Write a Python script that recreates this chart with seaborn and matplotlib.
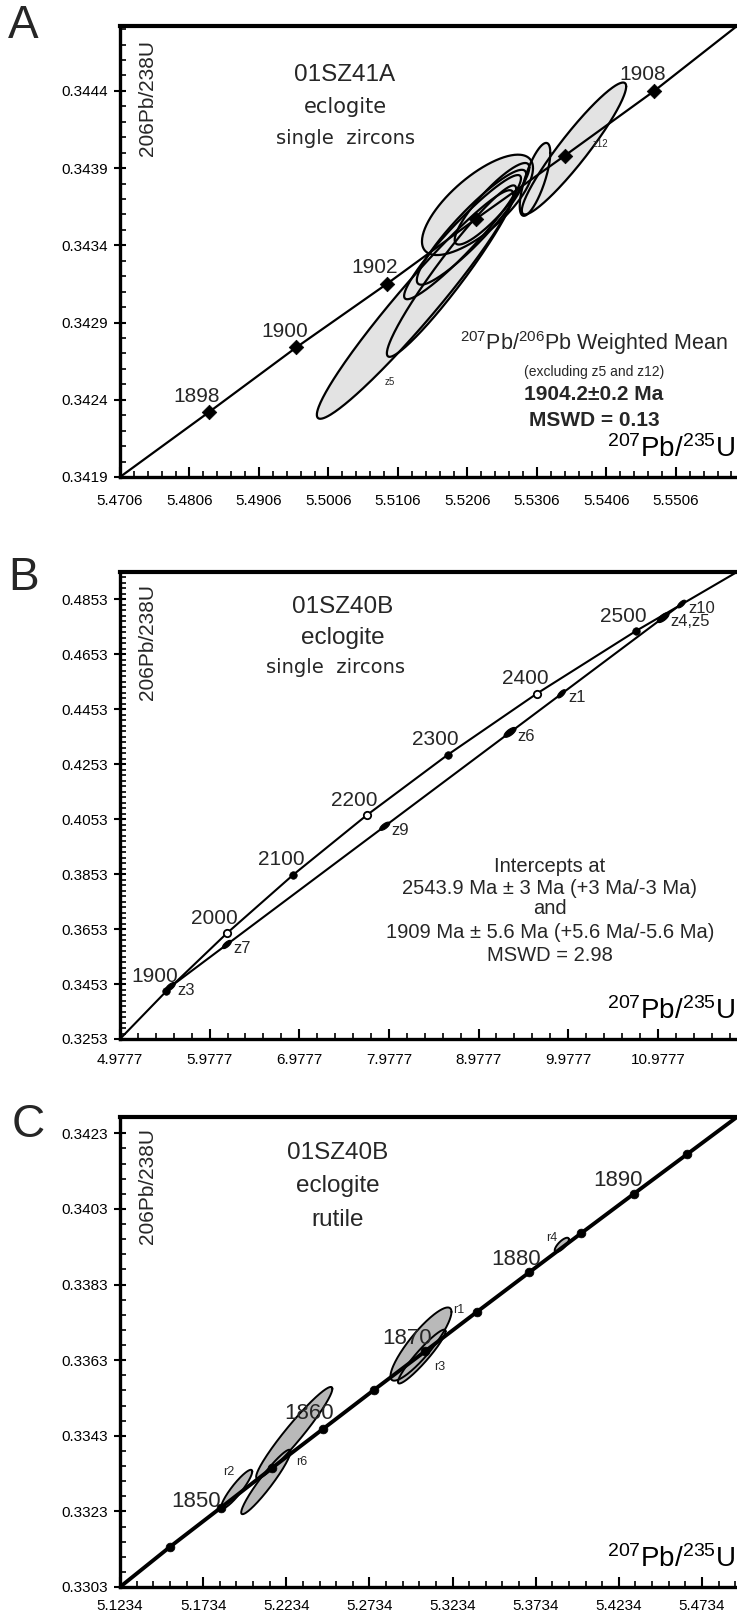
import numpy as np
import pandas as pd
import matplotlib
matplotlib.use("Agg")
import matplotlib.pyplot as plt
import seaborn as sns
from matplotlib.ticker import FixedLocator, FixedFormatter

# ---------------- data: panel A (01SZ41A zircons) ----------------
a_xticks = [5.4706, 5.4806, 5.4906, 5.5006, 5.5106, 5.5206, 5.5306, 5.5406, 5.5506]
a_yticks = [0.3419, 0.3424, 0.3429, 0.3434, 0.3439, 0.3444]
a_xlim = [5.4706, 5.5594]
a_ylim = [0.3419, 0.34482]
a_age = [1898, 1900, 1902, 1904, 1906, 1908]
a_age_x = [5.4834, 5.4960, 5.5090, 5.5218, 5.5346, 5.5475]
a_age_y = [0.34232, 0.34274, 0.34315, 0.34357, 0.34398, 0.34440]
a_age_labeled = [1898, 1900, 1902, 1908]
a_ell_name = ["z5", "", "", "", "", "", "", "z12"]
a_ell_x = [5.51306, 5.51831, 5.51990, 5.52119, 5.52205, 5.52414, 5.53033, 5.53594]
a_ell_y = [0.343017, 0.343233, 0.343453, 0.343517, 0.343662, 0.343669, 0.343827, 0.344027]
a_ell_ex = [0.01413, 0.00930, 0.00841, 0.00787, 0.00799, 0.00537, 0.00220, 0.00751]
a_ell_ey = [0.000740, 0.000555, 0.000402, 0.000372, 0.000325, 0.000264, 0.000236, 0.000427]
a_ell_rho = [0.965, 0.958, 0.946, 0.919, 0.729, 0.887, 0.729, 0.940]

# ---------------- data: panel B (01SZ40B zircons) ----------------
b_xticks = [4.9777, 5.9777, 6.9777, 7.9777, 8.9777, 9.9777, 10.9777]
b_yticks = [0.3253, 0.3453, 0.3653, 0.3853, 0.4053, 0.4253, 0.4453, 0.4653, 0.4853]
b_xlim = [4.9777, 11.861]
b_ylim = [0.3253, 0.4953]
b_age = [1900, 2000, 2100, 2200, 2300, 2400, 2500]
b_age_x = [5.4962, 6.1685, 6.9105, 7.7292, 8.6326, 9.6296, 10.7297]
b_age_y = [0.34276, 0.36375, 0.38509, 0.40674, 0.42873, 0.45107, 0.47375]
b_age_open = [False, True, False, True, False, True, False]
b_disc_x = [5.5541, 11.2485]
b_disc_y = [0.34465, 0.48384]
b_pt_name = ["z3", "z7", "z9", "z6", "z1", "z4,z5", "z10"]
b_pt_x = [5.539, 6.170, 7.931, 9.329, 9.903, 11.038, 11.242]
b_pt_y = [0.34428, 0.35971, 0.40275, 0.43692, 0.45095, 0.47869, 0.48364]
b_pt_ex = [0.056, 0.050, 0.056, 0.067, 0.045, 0.065, 0.045]
b_pt_ey = [0.0016, 0.0015, 0.0015, 0.0018, 0.0015, 0.0018, 0.0014]

# ---------------- data: panel C (01SZ40B rutile) ----------------
c_xticks = [5.1234, 5.1734, 5.2234, 5.2734, 5.3234, 5.3734, 5.4234, 5.4734]
c_yticks = [0.3303, 0.3323, 0.3343, 0.3363, 0.3383, 0.3403, 0.3423]
c_xlim = [5.1234, 5.4945]
c_ylim = [0.3303, 0.34273]
c_age = [1845, 1850, 1855, 1860, 1865, 1870, 1875, 1880, 1885, 1890, 1895]
c_age_x = [5.1537, 5.1841, 5.2146, 5.2452, 5.2761, 5.3071, 5.3382, 5.3695, 5.4009, 5.4325, 5.4643]
c_age_y = [0.33137, 0.33240, 0.33344, 0.33447, 0.33551, 0.33654, 0.33758, 0.33862, 0.33966, 0.34070, 0.34174]
c_age_labeled = [1850, 1860, 1870, 1880, 1890]
c_ell_name = ["r2", "r6", "", "r1", "r3", "r4"]
c_ell_x = [5.19362, 5.21116, 5.22821, 5.30442, 5.30490, 5.38913]
c_ell_y = [0.332887, 0.333078, 0.334379, 0.336725, 0.336394, 0.339348]
c_ell_ex = [0.00933, 0.01486, 0.02292, 0.01835, 0.01432, 0.00427]
c_ell_ey = [0.000513, 0.000852, 0.001212, 0.000968, 0.000712, 0.000189]
c_ell_rho = [0.911, 0.946, 0.959, 0.878, 0.942, 0.758]

# ---------------- styling ----------------
sns.set_theme(style="ticks")
plt.rcParams['font.family'] = ['Liberation Sans', 'DejaVu Sans']
plt.rcParams['mathtext.fontset'] = 'custom'
plt.rcParams['mathtext.rm'] = 'Liberation Sans'
plt.rcParams['mathtext.it'] = 'Liberation Sans'
plt.rcParams['mathtext.bf'] = 'Liberation Sans:bold'

W, H = 737, 1621
fig = plt.figure(figsize=(W / 100, H / 100), dpi=100)
fig.patch.set_facecolor('white')


def px_axes(l, t, r, b):
    return fig.add_axes([l / W, 1 - b / H, (r - l) / W, (b - t) / H])


def ftext(x, y, s, **kw):
    fig.text(x / W, 1 - y / H, s, **kw)


def ellipse_xy(cx, cy, ex, ey, rho, n=240):
    t = np.linspace(0, 2 * np.pi, n)
    x = cx + ex * np.cos(t)
    y = cy + ey * (rho * np.cos(t) + np.sqrt(1 - rho ** 2) * np.sin(t))
    return x, y


def style_axes(ax, xlim, ylim, xticks, yticks, nxm, nym, xpad):
    ax.set_xlim(xlim)
    ax.set_ylim(ylim)
    ax.xaxis.set_major_locator(FixedLocator(xticks))
    ax.xaxis.set_major_formatter(FixedFormatter([f"{v:.4f}" for v in xticks]))
    ax.yaxis.set_major_locator(FixedLocator(yticks))
    ax.yaxis.set_major_formatter(FixedFormatter([f"{v:.4f}" for v in yticks]))
    dx = (xticks[1] - xticks[0]) / nxm
    dy = (yticks[1] - yticks[0]) / nym
    ax.xaxis.set_minor_locator(FixedLocator(np.arange(xlim[0], xlim[1], dx)))
    ax.yaxis.set_minor_locator(FixedLocator(np.arange(ylim[0], ylim[1], dy)))
    for s in ['left', 'bottom']:
        ax.spines[s].set_linewidth(2.4)
        ax.spines[s].set_color('black')
    ax.spines['top'].set_linewidth(3.0)
    ax.spines['top'].set_color('black')
    ax.spines['right'].set_visible(False)
    ax.tick_params(axis='x', which='major', direction='in', length=7, width=1.5,
                   labelsize=11, pad=xpad, top=False, colors='black')
    ax.tick_params(axis='y', which='major', direction='inout', length=9, width=1.5,
                   labelsize=11, pad=4, right=False, colors='black')
    ax.tick_params(axis='both', which='minor', direction='in', length=4, width=1.2,
                   top=False, right=False, colors='black')
    ax.set_xlabel('')
    ax.set_ylabel('')
    ax.set_facecolor('white')
    ax.text(0.997, 0.03, r'$^{207}$Pb/$^{235}$U', transform=ax.transAxes,
            ha='right', va='bottom', fontsize=20, color='black')


def ylab(ax, ytop_px, panel_top_px):
    ax.text(0.045, 1 - (ytop_px - panel_top_px) / (ax.bbox.height), '206Pb/238U',
            transform=ax.transAxes, rotation=90, ha='center', va='top', fontsize=15)


# ---------------- panel A ----------------
axA = px_axes(120, 26, 737, 477)
style_axes(axA, a_xlim, a_ylim, a_xticks, a_yticks, 5, 5, 12)
for cx, cy, ex, ey, r in zip(a_ell_x, a_ell_y, a_ell_ex, a_ell_ey, a_ell_rho):
    x, y = ellipse_xy(cx, cy, ex, ey, r)
    axA.fill(x, y, facecolor='#e3e3e3', edgecolor='none', zorder=1)
for cx, cy, ex, ey, r in zip(a_ell_x, a_ell_y, a_ell_ex, a_ell_ey, a_ell_rho):
    x, y = ellipse_xy(cx, cy, ex, ey, r)
    axA.plot(x, y, color='black', lw=1.6, zorder=2)
a_curve_x = [a_xlim[0]] + a_age_x + [a_xlim[1]]
a_curve_y = [a_ylim[0]] + a_age_y + [a_ylim[1]]
sns.lineplot(x=a_curve_x, y=a_curve_y, sort=False, estimator=None, color='black',
             linewidth=1.6, ax=axA, zorder=3, legend=False)
sns.scatterplot(x=a_age_x, y=a_age_y, marker='D', s=55, color='black', edgecolor='black',
                linewidth=0.5, ax=axA, zorder=4, legend=False)
for age, x, y in zip(a_age, a_age_x, a_age_y):
    if age in a_age_labeled:
        axA.annotate(str(age), (x, y), xytext=(-12, 16), textcoords='offset pixels',
                     ha='center', va='center', fontsize=15)
a_lab_off = {"z5": (-25, -78), "z12": (26, 4)}
for n, cx, cy in zip(a_ell_name, a_ell_x, a_ell_y):
    if n:
        axA.annotate(n, (cx, cy), xytext=a_lab_off[n], textcoords='offset pixels',
                     ha='center', va='center', fontsize=7)
axA.set_xlabel('')
axA.set_ylabel('')
ylab(axA, 40, 26)

ftext(345, 75, '01SZ41A', ha='center', va='center', fontsize=17.5)
ftext(345, 107, 'eclogite', ha='center', va='center', fontsize=15, family='DejaVu Sans')
ftext(345, 138, 'single  zircons', ha='center', va='center', fontsize=14, family='DejaVu Sans')
ftext(594, 343, r'$^{207}$Pb/$^{206}$Pb Weighted Mean', ha='center', va='center', fontsize=15.5)
ftext(594, 372, '(excluding z5 and z12)', ha='center', va='center', fontsize=10)
ftext(594, 395, '1904.2\u00b10.2 Ma', ha='center', va='center', fontsize=15, fontweight='bold')
ftext(594, 420, 'MSWD = 0.13', ha='center', va='center', fontsize=15, fontweight='bold')

# ---------------- panel B ----------------
axB = px_axes(120, 572, 737, 1039)
style_axes(axB, b_xlim, b_ylim, b_xticks, b_yticks, 5, 10, 10)
b_curve_x = [b_xlim[0]] + b_age_x + [b_xlim[1]]
b_curve_y = [b_ylim[0]] + b_age_y + [b_ylim[1]]
sns.lineplot(x=b_curve_x, y=b_curve_y, sort=False, estimator=None, color='black',
             linewidth=1.5, ax=axB, zorder=2, legend=False)
sns.lineplot(x=b_disc_x, y=b_disc_y, sort=False, estimator=None, color='black',
             linewidth=1.5, ax=axB, zorder=2, legend=False)
ages_b = pd.DataFrame({'x': b_age_x, 'y': b_age_y, 'open': b_age_open})
sns.scatterplot(data=ages_b[~ages_b['open']], x='x', y='y', s=30, color='black',
                edgecolor='black', ax=axB, zorder=4, legend=False)
sns.scatterplot(data=ages_b[ages_b['open']], x='x', y='y', s=28, facecolor='white',
                edgecolor='black', linewidth=1.3, ax=axB, zorder=4, legend=False)
for age, x, y in zip(b_age, b_age_x, b_age_y):
    axB.annotate(str(age), (x, y), xytext=(-12, 15), textcoords='offset pixels',
                 ha='center', va='center', fontsize=15)
for n, cx, cy, ex, ey in zip(b_pt_name, b_pt_x, b_pt_y, b_pt_ex, b_pt_ey):
    x, y = ellipse_xy(cx, cy, ex, ey, 0.7)
    axB.fill(x, y, facecolor='black', edgecolor='black', lw=0.8, zorder=5)
    axB.annotate(n, (cx, cy), xytext=(7, -4), textcoords='offset pixels',
                 ha='left', va='center', fontsize=12)
axB.set_xlabel('')
axB.set_ylabel('')
ylab(axB, 584, 572)

ftext(343, 607, '01SZ40B', ha='center', va='center', fontsize=17.5)
ftext(343, 638, 'eclogite', ha='center', va='center', fontsize=17.5)
ftext(336, 668, 'single  zircons', ha='center', va='center', fontsize=14, family='DejaVu Sans')
for yy, s in zip([866, 888, 909, 933, 955],
                 ['Intercepts at', '2543.9 Ma \u00b1 3 Ma (+3 Ma/-3 Ma)', 'and',
                  '1909 Ma \u00b1 5.6 Ma (+5.6 Ma/-5.6 Ma)', 'MSWD = 2.98']):
    ftext(550, yy, s, ha='center', va='center', fontsize=14.5)

# ---------------- panel C ----------------
axC = px_axes(120, 1117, 737, 1587)
style_axes(axC, c_xlim, c_ylim, c_xticks, c_yticks, 5, 5, 9)
for cx, cy, ex, ey, r in zip(c_ell_x, c_ell_y, c_ell_ex, c_ell_ey, c_ell_rho):
    x, y = ellipse_xy(cx, cy, ex, ey, r)
    axC.fill(x, y, facecolor='#b9b9b9', edgecolor='none', zorder=1)
for cx, cy, ex, ey, r in zip(c_ell_x, c_ell_y, c_ell_ex, c_ell_ey, c_ell_rho):
    x, y = ellipse_xy(cx, cy, ex, ey, r)
    axC.plot(x, y, color='black', lw=1.4, zorder=2)
c_curve_x = [c_xlim[0]] + c_age_x + [c_xlim[1]]
c_curve_y = [c_ylim[0]] + c_age_y + [c_ylim[1]]
sns.lineplot(x=c_curve_x, y=c_curve_y, sort=False, estimator=None, color='black',
             linewidth=2.8, ax=axC, zorder=3, legend=False)
sns.scatterplot(x=c_age_x, y=c_age_y, marker='o', s=40, color='black', edgecolor='black',
                ax=axC, zorder=4, legend=False)
c_age_off = {1850: (-25, 6), 1860: (-13, 16), 1870: (-18, 13), 1880: (-13, 13), 1890: (-16, 13)}
for age, x, y in zip(c_age, c_age_x, c_age_y):
    if age in c_age_labeled:
        axC.annotate(str(age), (x, y), xytext=c_age_off[age], textcoords='offset pixels',
                     ha='center', va='center', fontsize=16)
c_lab_off = {"r2": (-8, 17), "r6": (36, 20), "r1": (38, 34), "r3": (18, -10), "r4": (-10, 7)}
for n, cx, cy in zip(c_ell_name, c_ell_x, c_ell_y):
    if n:
        axC.annotate(n, (cx, cy), xytext=c_lab_off[n], textcoords='offset pixels',
                     ha='center', va='center', fontsize=9)
axC.set_xlabel('')
axC.set_ylabel('')
ylab(axC, 1128, 1117)

ftext(338, 1153, '01SZ40B', ha='center', va='center', fontsize=17.5)
ftext(338, 1186, 'eclogite', ha='center', va='center', fontsize=17.5)
ftext(338, 1220, 'rutile', ha='center', va='center', fontsize=17.5)

# panel letters
ftext(8, 4, 'A', ha='left', va='top', fontsize=33)
ftext(8, 556, 'B', ha='left', va='top', fontsize=33)
ftext(12, 1103, 'C', ha='left', va='top', fontsize=33)

fig.savefig('out.png', dpi=100, facecolor='white')
